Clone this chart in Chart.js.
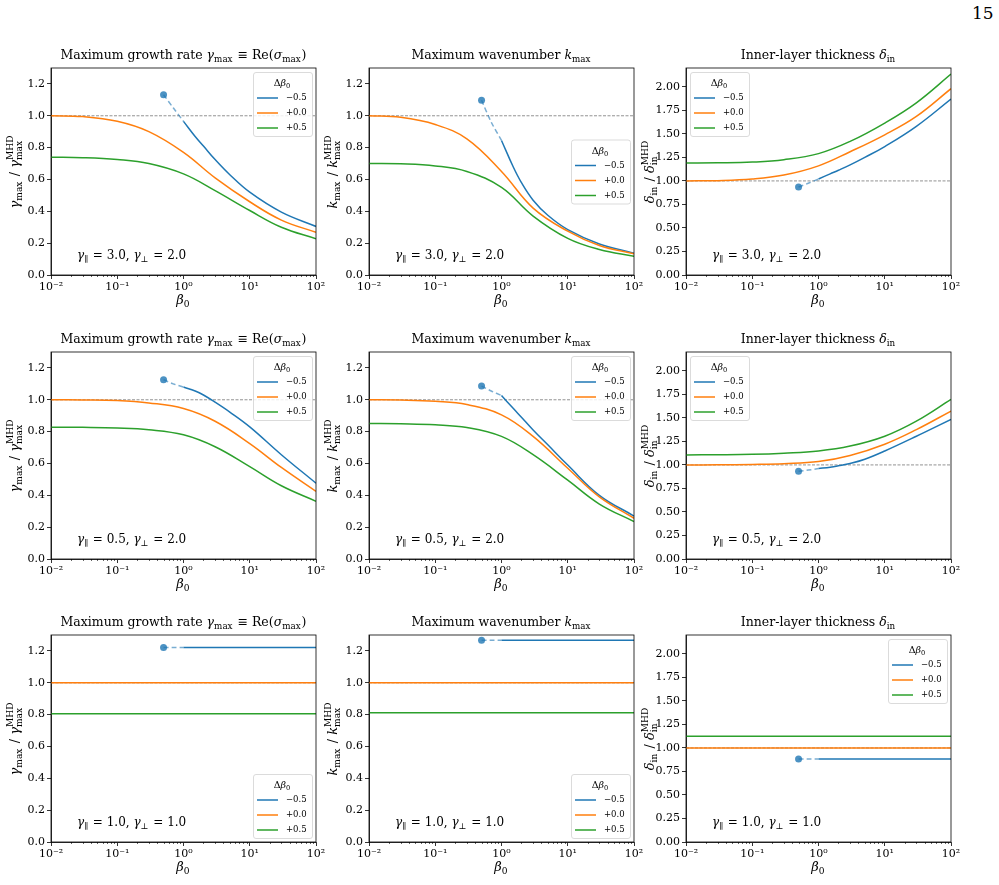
<!DOCTYPE html>
<html>
<head>
<meta charset="utf-8">
<script src="https://cdn.jsdelivr.net/npm/chart.js@4.4.0/dist/chart.umd.min.js"></script>
<style>
  body { margin: 0; background: #fff; }
  #page { position: relative; width: 999px; height: 885px; overflow: hidden; }
  #page canvas { position: absolute; }
  #pnum { position: absolute; left: 972px; top: 5px; font: 17px "DejaVu Serif", serif; line-height: 1; }
</style>
</head>
<body>
<div id="page"><div id="pnum">15</div></div>
<script>
// beta_0 sample points
const betaGrid = [0.01, 0.03, 0.1, 0.3, 1, 3, 10, 30, 100];
const betaDash = [0.5, 0.7, 1];
const betaBlue = [1, 1.5, 2, 3, 5, 10, 30, 100];

// legend labels (delta beta_0)
const offsetLabels = ['\u22120.5', '+0.0', '+0.5'];
// gamma_par, gamma_perp per row
const gammaPar = ['3.0', '0.5', '1.0'];
const gammaPerp = ['2.0', '2.0', '1.0'];

// tick labels
const xTickVals = [0.01, 0.1, 1, 10, 100];
const xTickLabels = ['10\u207B\u00B2', '10\u207B\u00B9', '10\u2070', '10\u00B9', '10\u00B2'];
const ticksRatio = [0, 0.2, 0.4, 0.6, 0.8, 1.0, 1.2];
const ticksDelta = [0, 0.25, 0.5, 0.75, 1.0, 1.25, 1.5, 1.75, 2.0];
const refLevel = 1;

// row 1: gamma_par = 3.0, gamma_perp = 2.0
const gamA_zero = [1.00, 0.995, 0.965, 0.90, 0.77, 0.61, 0.46, 0.345, 0.268];
const gamA_plus = [0.74, 0.737, 0.725, 0.70, 0.635, 0.53, 0.405, 0.30, 0.228];
const gamA_dash = [1.132, 1.05, 0.965];
const gamA_minus = [0.965, 0.87, 0.81, 0.725, 0.63, 0.52, 0.395, 0.305];

const kA_zero = [1.00, 0.99, 0.945, 0.855, 0.65, 0.42, 0.275, 0.185, 0.133];
const kA_plus = [0.70, 0.698, 0.685, 0.65, 0.55, 0.37, 0.23, 0.16, 0.117];
const kA_dash = [1.097, 0.96, 0.845];
const kA_minus = [0.845, 0.68, 0.58, 0.47, 0.375, 0.285, 0.195, 0.137];

const dA_zero = [1.00, 1.003, 1.02, 1.062, 1.16, 1.31, 1.49, 1.685, 1.98];
const dA_plus = [1.19, 1.192, 1.20, 1.225, 1.29, 1.42, 1.615, 1.83, 2.135];
const dA_dash = [0.936, 0.975, 1.02];
const dA_minus = [1.02, 1.075, 1.113, 1.17, 1.25, 1.365, 1.58, 1.87];

// row 2: gamma_par = 0.5, gamma_perp = 2.0
const gamB_zero = [1.00, 0.999, 0.995, 0.98, 0.945, 0.865, 0.725, 0.575, 0.425];
const gamB_plus = [0.828, 0.827, 0.823, 0.812, 0.78, 0.705, 0.58, 0.46, 0.363];
const gamB_dash = [1.126, 1.10, 1.08];
const gamB_minus = [1.08, 1.055, 1.03, 0.985, 0.923, 0.83, 0.655, 0.476];

const kB_zero = [1.00, 0.998, 0.99, 0.97, 0.905, 0.77, 0.57, 0.39, 0.256];
const kB_plus = [0.851, 0.849, 0.843, 0.826, 0.77, 0.655, 0.495, 0.345, 0.235];
const kB_dash = [1.086, 1.055, 1.027];
const kB_minus = [1.027, 0.946, 0.89, 0.81, 0.717, 0.59, 0.40, 0.27];

const dB_zero = [1.00, 1.001, 1.005, 1.013, 1.035, 1.10, 1.22, 1.375, 1.572];
const dB_plus = [1.106, 1.108, 1.113, 1.125, 1.148, 1.20, 1.305, 1.465, 1.696];
const dB_dash = [0.933, 0.945, 0.961];
const dB_minus = [0.961, 0.975, 0.99, 1.015, 1.06, 1.148, 1.305, 1.484];

// row 3: gamma_par = 1.0, gamma_perp = 1.0 (flat)
const gamC_zero = [1, 1, 1, 1, 1, 1, 1, 1, 1];
const gamC_plus = [0.805, 0.805, 0.805, 0.805, 0.805, 0.805, 0.805, 0.805, 0.805];
const gamC_dash = [1.222, 1.222, 1.222];
const gamC_minus = [1.222, 1.222, 1.222, 1.222, 1.222, 1.222, 1.222, 1.222];

const kC_zero = [1, 1, 1, 1, 1, 1, 1, 1, 1];
const kC_plus = [0.812, 0.812, 0.812, 0.812, 0.812, 0.812, 0.812, 0.812, 0.812];
const kC_dash = [1.267, 1.267, 1.267];
const kC_minus = [1.267, 1.267, 1.267, 1.267, 1.267, 1.267, 1.267, 1.267];

const dC_zero = [1, 1, 1, 1, 1, 1, 1, 1, 1];
const dC_plus = [1.124, 1.124, 1.124, 1.124, 1.124, 1.124, 1.124, 1.124, 1.124];
const dC_dash = [0.883, 0.883, 0.883];
const dC_minus = [0.883, 0.883, 0.883, 0.883, 0.883, 0.883, 0.883, 0.883];

const FONT = '"DejaVu Serif", serif';
const colLeft = [51, 369, 686];
const rowTop = [68, 352, 635];
const plotW = 265, plotH = 207;
const padL = 51, padT = 45, padR = 20, padB = 40;

// titles / labels as rich text pieces
const titles = [
  [{t: 'Maximum growth rate '}, {t: '\u03B3', i: 1}, {t: 'max', s: 1}, {t: ' \u2261 Re('}, {t: '\u03C3', i: 1}, {t: 'max', s: 1}, {t: ')'}],
  [{t: 'Maximum wavenumber '}, {t: 'k', i: 1}, {t: 'max', s: 1}],
  [{t: 'Inner-layer thickness '}, {t: '\u03B4', i: 1}, {t: 'in', s: 1}]
];
const ylabels = [
  [{t: '\u03B3', i: 1}, {t: 'max', s: 1}, {t: ' / '}, {t: '\u03B3', i: 1}, {t: 'max', s: 1, sup: 'MHD'}],
  [{t: 'k', i: 1}, {t: 'max', s: 1}, {t: ' / '}, {t: 'k', i: 1}, {t: 'max', s: 1, sup: 'MHD'}],
  [{t: '\u03B4', i: 1}, {t: 'in', s: 1}, {t: ' / '}, {t: '\u03B4', i: 1}, {t: 'in', s: 1, sup: 'MHD'}]
];

const panels = [
  [gamA_zero, gamA_plus, gamA_dash, gamA_minus, 'ur'],
  [kA_zero, kA_plus, kA_dash, kA_minus, 'cr'],
  [dA_zero, dA_plus, dA_dash, dA_minus, 'ul'],
  [gamB_zero, gamB_plus, gamB_dash, gamB_minus, 'ur'],
  [kB_zero, kB_plus, kB_dash, kB_minus, 'ur'],
  [dB_zero, dB_plus, dB_dash, dB_minus, 'ul'],
  [gamC_zero, gamC_plus, gamC_dash, gamC_minus, 'lr'],
  [kC_zero, kC_plus, kC_dash, kC_minus, 'lr'],
  [dC_zero, dC_plus, dC_dash, dC_minus, 'ur']
];

const BLUE = '#1f77b4', ORANGE = '#ff7f0e', GREEN = '#2ca02c';

function drawMath(ctx, parts, size, x, y, align, rot) {
  const sub = size * 0.7;
  const font = (sz, it) => (it ? 'italic ' : '') + sz + 'px ' + FONT;
  const items = parts.map(p => {
    if (p.s) {
      ctx.font = font(sub, false);
      const w1 = ctx.measureText(p.t).width;
      const w2 = p.sup ? ctx.measureText(p.sup).width : 0;
      return {p, w: Math.max(w1, w2) + 1};
    }
    ctx.font = font(size, p.i);
    return {p, w: ctx.measureText(p.t).width};
  });
  const total = items.reduce((a, b) => a + b.w, 0);
  ctx.save();
  ctx.translate(x, y);
  ctx.rotate(rot || 0);
  let cx = align === 'center' ? -total / 2 : (align === 'right' ? -total : 0);
  ctx.fillStyle = '#000';
  ctx.textAlign = 'left';
  ctx.textBaseline = 'alphabetic';
  items.forEach(({p, w}) => {
    if (p.s) {
      ctx.font = font(sub, p.si);
      ctx.fillText(p.t, cx, size * 0.24);
      if (p.sup) ctx.fillText(p.sup, cx, -size * 0.45);
    } else {
      ctx.font = font(size, p.i);
      ctx.fillText(p.t, cx, 0);
    }
    cx += w;
  });
  ctx.restore();
}

function drawLegend(ctx, ca, loc) {
  const w = 59, h = 64, pad = 4;
  let x = ca.right - pad - w, y = ca.top + pad;
  if (loc === 'ul') x = ca.left + pad;
  if (loc === 'lr') y = ca.bottom - pad - h;
  if (loc === 'cr') y = (ca.top + ca.bottom) / 2 - h / 2;
  ctx.save();
  ctx.fillStyle = 'rgba(255,255,255,0.85)';
  ctx.strokeStyle = '#d2d2d2';
  ctx.lineWidth = 0.8;
  ctx.beginPath();
  ctx.roundRect(x + 0.5, y + 0.5, w, h, 2.5);
  ctx.fill();
  ctx.stroke();
  drawMath(ctx, [{t: '\u0394'}, {t: '\u03B2', i: 1}, {t: '0', s: 1}], 9.5, x + w / 2, y + 14, 'center');
  const cols = [BLUE, ORANGE, GREEN];
  offsetLabels.forEach((lab, i) => {
    const yy = y + 26 + i * 15;
    ctx.strokeStyle = cols[i];
    ctx.lineWidth = 1.5;
    ctx.beginPath();
    ctx.moveTo(x + 4, yy);
    ctx.lineTo(x + 25, yy);
    ctx.stroke();
    ctx.fillStyle = '#000';
    ctx.font = '8.5px ' + FONT;
    ctx.textBaseline = 'middle';
    ctx.textAlign = 'left';
    ctx.fillText(lab, x + 33, yy);
  });
  ctx.restore();
}

function pts(xs, ys) {
  return xs.map((b, i) => ({x: b, y: ys[i]}));
}

const page = document.getElementById('page');

panels.forEach((p, n) => {
  const r = Math.floor(n / 3), c = n % 3;
  const [zero, plus, dash, minus, loc] = p;
  const isDelta = c === 2;
  const cv = document.createElement('canvas');
  cv.width = plotW + padL + padR;
  cv.height = plotH + padT + padB;
  cv.style.left = (colLeft[c] - padL) + 'px';
  cv.style.top = (rowTop[r] - padT) + 'px';
  page.appendChild(cv);

  const textPlugin = {
    id: 'panelText' + n,
    afterDraw(chart) {
      const ctx = chart.ctx, ca = chart.chartArea;
      const xs = chart.scales.x;
      ctx.save();
      ctx.strokeStyle = '#000';
      ctx.lineWidth = 0.8;
      ctx.strokeRect(ca.left, ca.top, ca.right - ca.left, ca.bottom - ca.top);
      // minor ticks on the log axis
      ctx.lineWidth = 0.6;
      for (let k = -2; k < 2; k++) {
        for (let m = 2; m <= 9; m++) {
          const px = Math.round(xs.getPixelForValue(m * Math.pow(10, k))) + 0.5;
          ctx.beginPath();
          ctx.moveTo(px, ca.bottom);
          ctx.lineTo(px, ca.bottom + 2);
          ctx.stroke();
        }
      }
      ctx.restore();
      const cx = (ca.left + ca.right) / 2, cy = (ca.top + ca.bottom) / 2;
      drawMath(ctx, titles[c], 12.5, cx, ca.top - 9, 'center');
      drawMath(ctx, ylabels[c], 13, ca.left - 32, cy, 'center', -Math.PI / 2);
      drawMath(ctx, [{t: '\u03B2', i: 1}, {t: '0', s: 1}], 13, cx, ca.bottom + 29, 'center');
      drawMath(ctx, [{t: '\u03B3', i: 1}, {t: '\u2225', s: 1}, {t: ' = ' + gammaPar[r] + ', '},
        {t: '\u03B3', i: 1}, {t: '\u22A5', s: 1}, {t: ' = ' + gammaPerp[r]}], 12, ca.left + 26, ca.bottom - 16, 'left');
      drawLegend(ctx, ca, loc);
    }
  };

  const common = {borderWidth: 1.5, pointRadius: 0, tension: 0.4, fill: false};
  new Chart(cv, {
    type: 'line',
    data: {
      datasets: [
        Object.assign({data: pts(betaGrid, plus), borderColor: GREEN}, common),
        Object.assign({data: pts(betaGrid, zero), borderColor: ORANGE}, common),
        Object.assign({data: pts(betaBlue, minus), borderColor: BLUE}, common),
        {
          data: pts(betaDash, dash), borderColor: 'rgba(31,119,180,0.6)', borderWidth: 1.5,
          borderDash: [5, 3], tension: 0.3,
          pointRadius: ctx => ctx.dataIndex === 0 ? 3.5 : 0,
          pointBackgroundColor: 'rgba(31,119,180,0.8)', pointBorderWidth: 0
        },
        {
          data: [{x: 0.01, y: refLevel}, {x: 100, y: refLevel}], borderColor: '#777',
          borderWidth: 0.8, borderDash: [3, 1.5], pointRadius: 0
        }
      ]
    },
    options: {
      responsive: false,
      animation: false,
      devicePixelRatio: 1,
      layout: {padding: {left: 0, top: padT, right: padR, bottom: 0}},
      plugins: {legend: {display: false}, tooltip: {enabled: false}},
      scales: {
        x: {
          type: 'logarithmic', min: 0.01, max: 100,
          afterBuildTicks: ax => { ax.ticks = xTickVals.map(v => ({value: v})); },
          afterFit: s => { s.height = padB; },
          ticks: {
            callback: (v, i) => xTickLabels[i], font: {family: FONT, size: 11},
            color: '#000', maxRotation: 0, autoSkip: false, padding: 2
          },
          grid: {drawOnChartArea: false, tickLength: 4, color: '#000', lineWidth: 0.8},
          border: {color: '#000', width: 0.8}
        },
        y: {
          type: 'linear', min: 0, max: isDelta ? 2.2 : 1.3,
          afterBuildTicks: ax => { ax.ticks = (isDelta ? ticksDelta : ticksRatio).map(v => ({value: v})); },
          afterFit: s => { s.width = padL; },
          ticks: {
            callback: v => v.toFixed(isDelta ? 2 : 1), font: {family: FONT, size: 11},
            color: '#000', autoSkip: false, padding: 2
          },
          grid: {drawOnChartArea: false, tickLength: 4, color: '#000', lineWidth: 0.8},
          border: {color: '#000', width: 0.8}
        }
      }
    },
    plugins: [textPlugin]
  });
});
</script>
</body>
</html>
